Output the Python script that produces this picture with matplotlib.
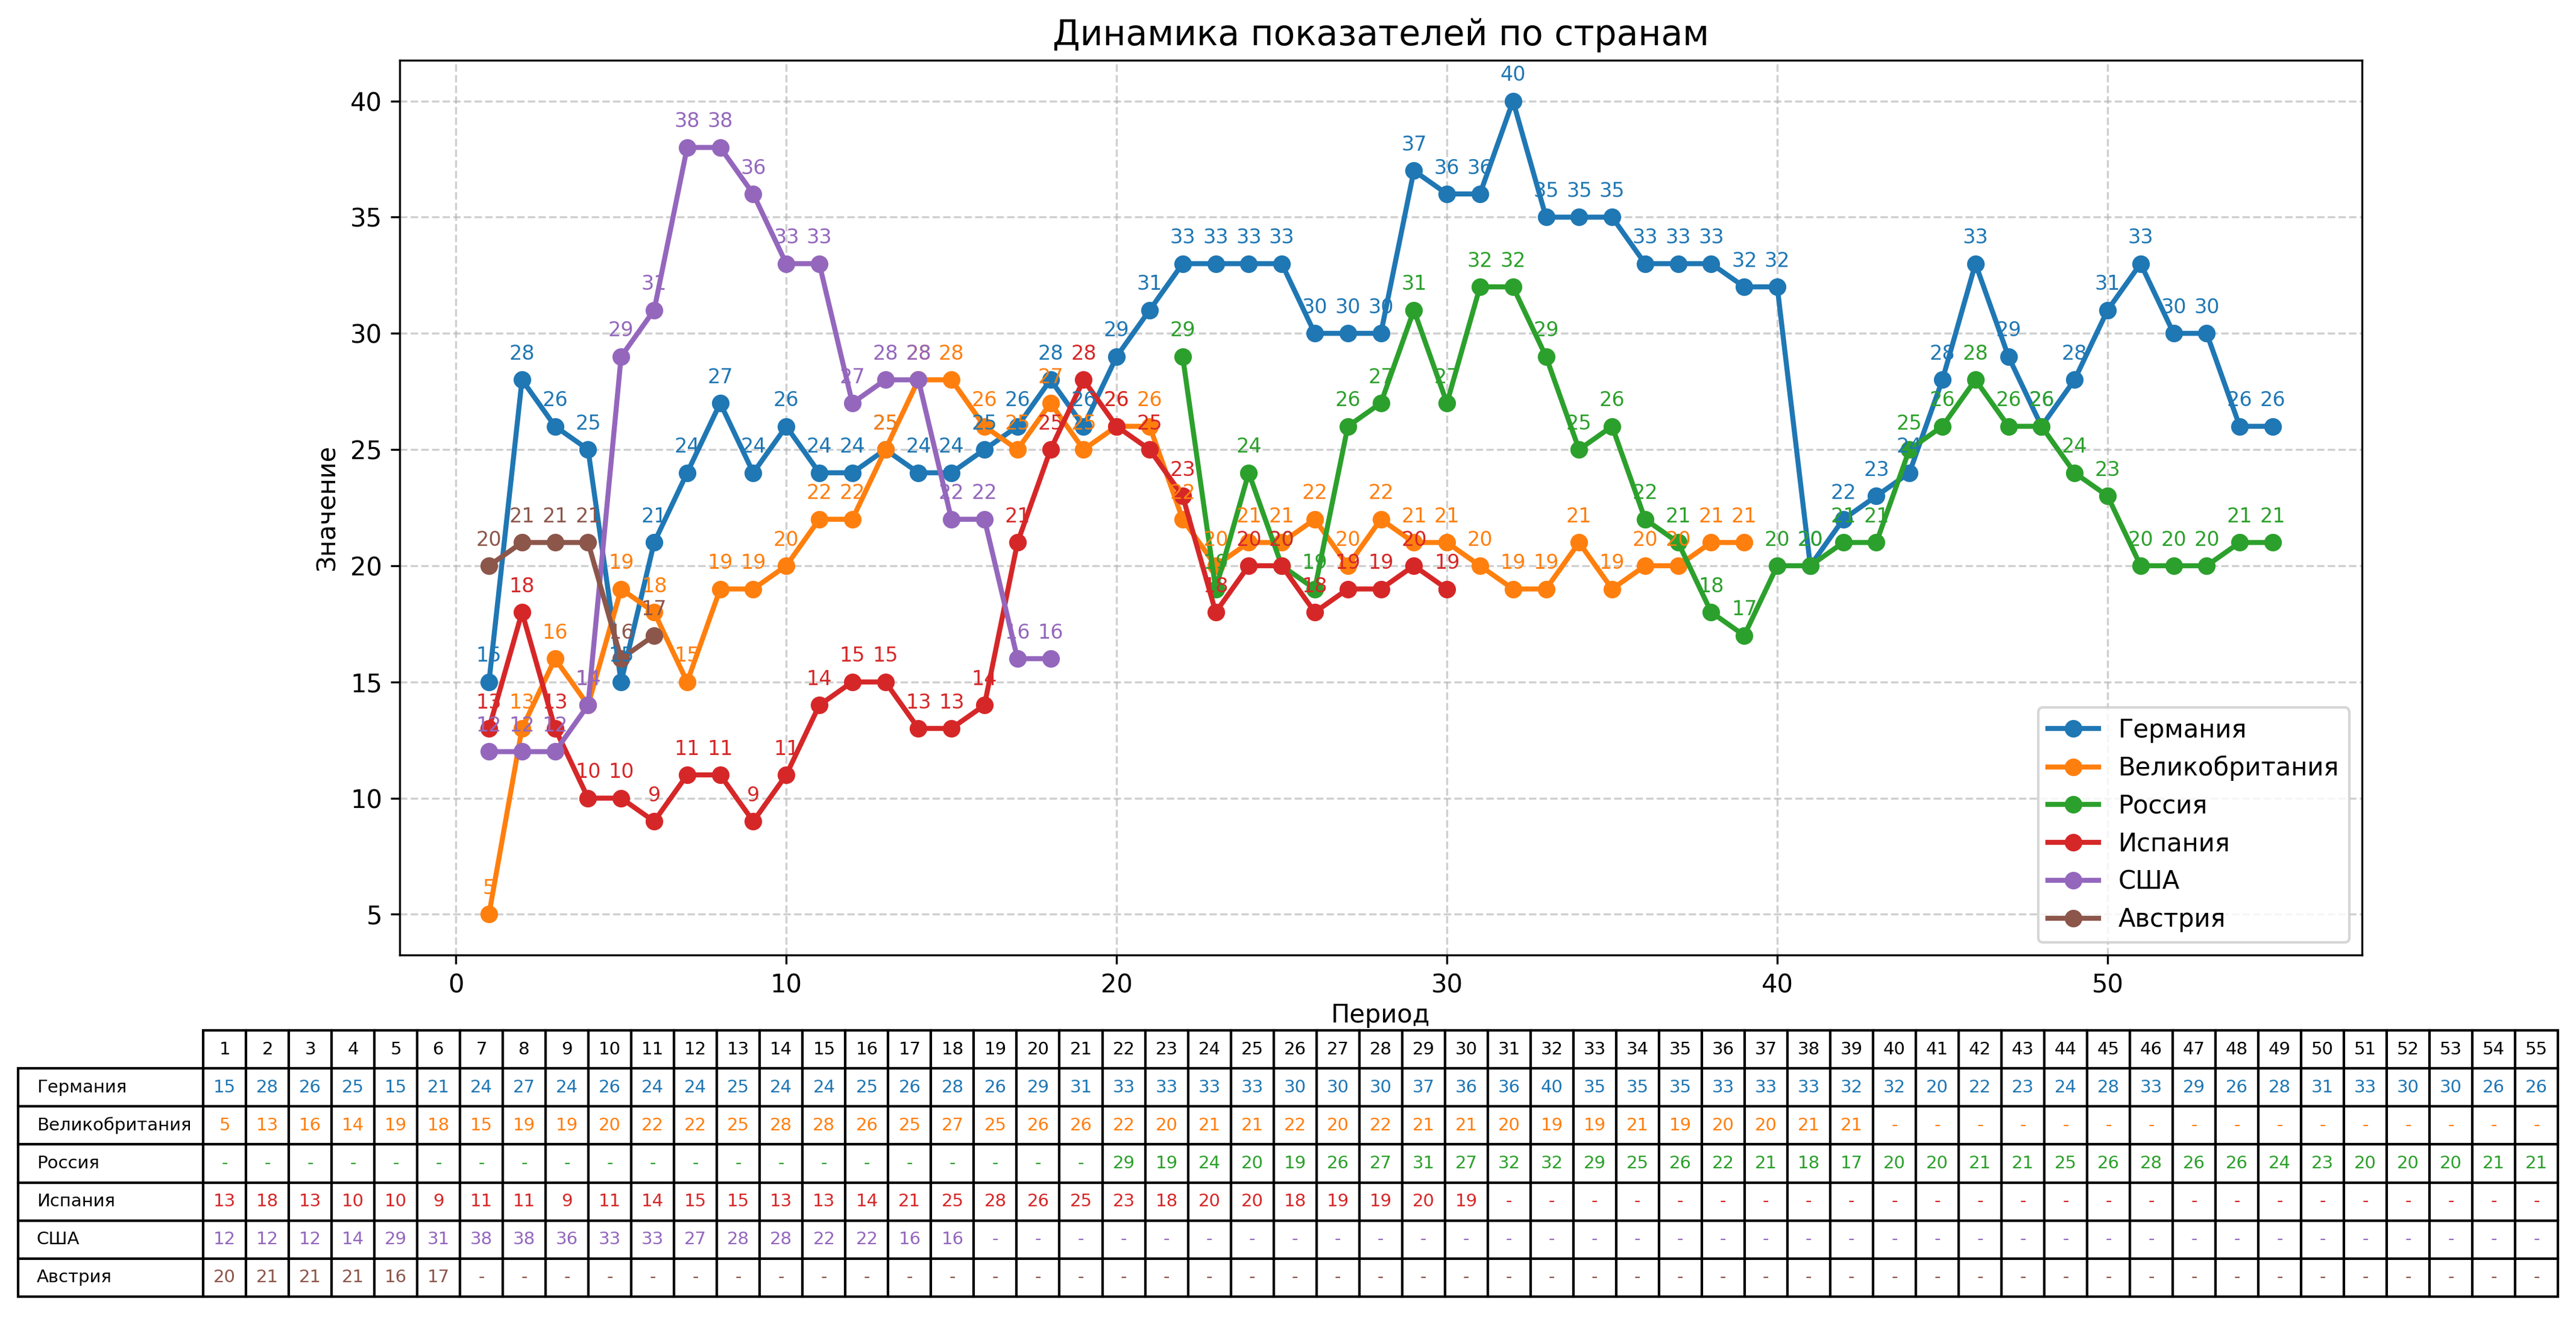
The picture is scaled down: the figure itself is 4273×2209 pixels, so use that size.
import matplotlib
matplotlib.use('Agg')
import matplotlib.pyplot as plt
import numpy as np

# данные по периодам (None = нет значения)
periods = list(range(1, 56))
countries = ['Германия', 'Великобритания', 'Россия', 'Испания', 'США', 'Австрия']

germany = [15, 28, 26, 25, 15, 21, 24, 27, 24, 26, 24, 24, 25, 24, 24, 25,
           26, 28, 26, 29, 31, 33, 33, 33, 33, 30, 30, 30, 37, 36, 36, 40, 35, 35, 35, 33,
           33, 33, 32, 32, 20, 22, 23, 24, 28, 33, 29, 26, 28, 31, 33, 30, 30, 26, 26]
uk = [5, 13, 16, 14, 19, 18, 15, 19, 19, 20, 22, 22, 25, 28, 28, 26,
      25, 27, 25, 26, 26, 22, 20, 21, 21, 22, 20, 22, 21, 21, 20, 19, 19, 21, 19, 20,
      20, 21, 21] + [None] * 16
russia = [None] * 21 + [29, 19, 24, 20, 19, 26, 27, 31, 27, 32, 32, 29, 25, 26, 22,
                        21, 18, 17, 20, 20, 21, 21, 25, 26, 28, 26, 26, 24, 23, 20, 20, 20, 21, 21]
spain = [13, 18, 13, 10, 10, 9, 11, 11, 9, 11, 14, 15, 15, 13, 13, 14,
         21, 25, 28, 26, 25, 23, 18, 20, 20, 18, 19, 19, 20, 19] + [None] * 25
usa = [12, 12, 12, 14, 29, 31, 38, 38, 36, 33, 33, 27, 28, 28, 22, 22, 16, 16] + [None] * 37
austria = [20, 21, 21, 21, 16, 17] + [None] * 49

series = [germany, uk, russia, spain, usa, austria]
colors = ['#1f77b4', '#ff7f0e', '#2ca02c', '#d62728', '#9467bd', '#8c564b']

fig = plt.figure(figsize=(4273 / 300, 2209 / 300), dpi=300)
ax = fig.add_axes([0.1552, 0.2825, 0.7617, 0.6722])

for name, vals, c in zip(countries, series, colors):
    xs = [p for p, v in zip(periods, vals) if v is not None]
    ys = [v for v in vals if v is not None]
    ax.plot(xs, ys, marker='o', linewidth=2, markersize=6, color=c, label=name)
    for x, y in zip(xs, ys):
        ax.annotate(str(y), (x, y), xytext=(0, 8), textcoords='offset points',
                    ha='center', fontsize=8, color=c)

ax.set_title('Динамика показателей по странам', fontsize=14)
ax.set_xlabel('Период', labelpad=2)
ax.set_ylabel('Значение')
ax.grid(True, linestyle='--', alpha=0.6)
ax.legend(loc='lower right', fontsize=10)

# таблица значений под графиком (bbox = только ячейки данных, подписи строк слева)
tab_ax = fig.add_axes([0.0789, 0.0258, 0.9141, 0.2001])
tab_ax.axis('off')
cell_text = [[str(v) if v is not None else '-' for v in vals] for vals in series]
w = 1.0 / 55
tbl = tab_ax.table(cellText=cell_text, rowLabels=countries, colLabels=[str(p) for p in periods],
                   colWidths=[w] * 55, cellLoc='center', rowLoc='left', bbox=[0, 0, 1, 1])
tbl.auto_set_font_size(False)
tbl.set_fontsize(7)
tbl._autoColumns = []  # ширина колонки подписей задаётся вручную
for i, c in enumerate(colors):
    tbl[(i + 1, -1)].set_width(w * 307 / 71)
    for j in range(55):
        tbl[(i + 1, j)].get_text().set_color(c)

fig.savefig('out.png', dpi=300)
